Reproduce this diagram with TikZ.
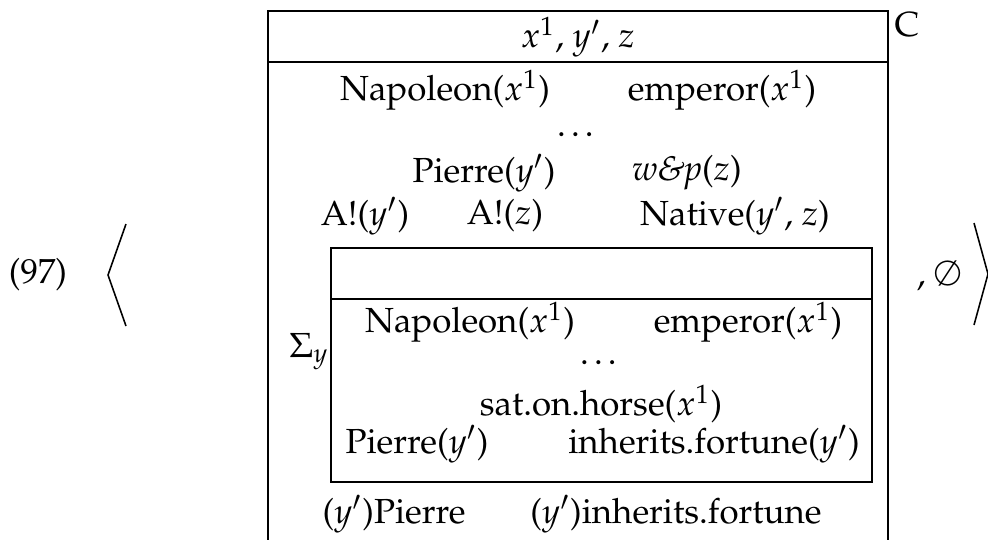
\documentclass[tikz,border=0pt]{standalone}
\usepackage[T1]{fontenc}
\usepackage{mathpazo}
\begin{document}
\begin{tikzpicture}[x=0.287pt, y=-0.287pt, line width=0.45pt,
    cond/.style={inner sep=0pt}]
  \clip (0,0) rectangle (988,539);
  % example number and the pair brackets
  \node (exnum) at (38,275) {(97)};
  \draw (126,224) -- (108,275) -- (126,326);
  \draw (974,223) -- (988,274) -- (974,325);
  \node[cond] (empty) at (939,276) {, $\emptyset$};
  % outer drs, it runs on below the page
  \draw (268,11) rectangle (888,640);
  \draw (268,62) -- (888,62);
  \node[cond] (univ) at (578,37) {$x^1$, $y'$, $z$};
  \node[cond] (lab) at (907,25) {C};
  \node[cond] (napo) at (445,90) {Napoleon($x^1$)};
  \node[cond] (emp) at (722,90) {emperor($x^1$)};
  \node[cond] (dots) at (578,135) {\dots};
  \node[cond] (pierre) at (484,173) {Pierre($y'$)};
  \node[cond] (wp) at (687,173) {\textit{w\&p}($z$)};
  \node[cond] (ay) at (365,216) {A!($y'$)};
  \node[cond] (az) at (505,216) {A!($z$)};
  \node[cond] (native) at (735,216) {Native($y'$, $z$)};
  % inner drs under the sum
  \draw (331,248) rectangle (872,482);
  \draw (331,299) -- (872,299);
  \node[cond, anchor=east] (sum) at (330,352) {$\Sigma_y$};
  \node[cond] (napo2) at (470,322) {Napoleon($x^1$)};
  \node[cond] (emp2) at (748,322) {emperor($x^1$)};
  \node[cond] (dots2) at (601,363) {\dots};
  \node[cond] (horse) at (601,404) {sat.on.horse($x^1$)};
  \node[cond] (pierre2) at (417,444) {Pierre($y'$)};
  \node[cond] (fort) at (714,444) {inherits.fortune($y'$)};
  % conditions after the sum
  \node[cond] (ypierre) at (394,514) {($y'$)Pierre};
  \node[cond] (yfort) at (676,514) {($y'$)inherits.fortune};
\end{tikzpicture}
\end{document}
